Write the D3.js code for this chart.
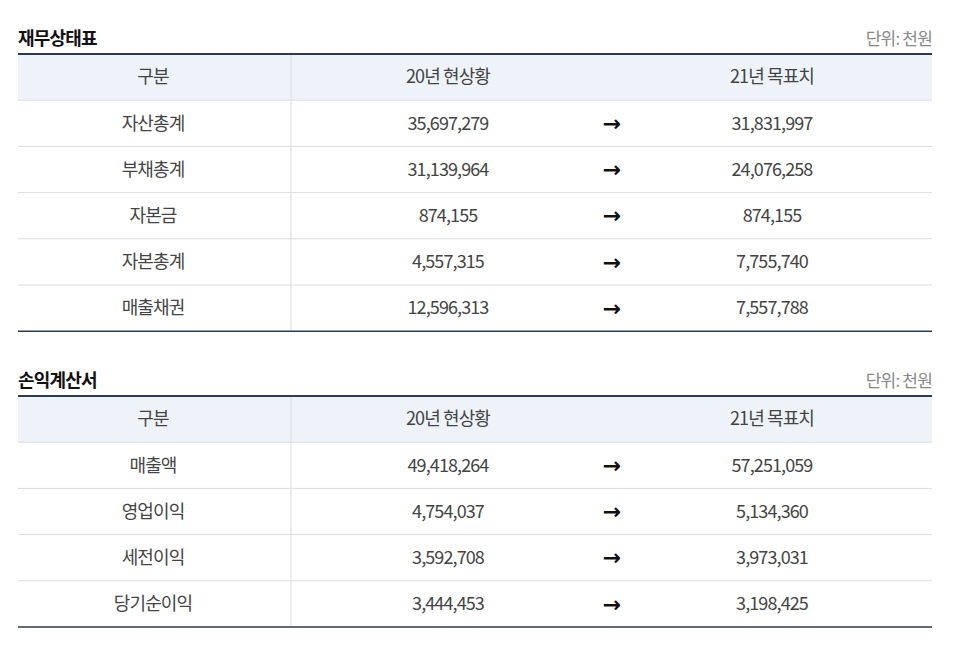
<!DOCTYPE html>
<html><head><meta charset="utf-8">
<script src="https://cdn.jsdelivr.net/npm/d3@7"></script>
<style>body{margin:0;background:#fff}</style></head>
<body><svg id="c" width="966" height="648"></svg>
<script>
const headers = ["구분", "20년 현상황", "21년 목표치"];
const unitLabel = "단위: 천원";
const title1 = "재무상태표";
const cats1 = ["자산총계", "부채총계", "자본금", "자본총계", "매출채권"];
const cur1 = [35697279, 31139964, 874155, 4557315, 12596313];
const tgt1 = [31831997, 24076258, 874155, 7755740, 7557788];
const title2 = "손익계산서";
const cats2 = ["매출액", "영업이익", "세전이익", "당기순이익"];
const cur2 = [49418264, 4754037, 3592708, 3444453];
const tgt2 = [57251059, 5134360, 3973031, 3198425];

const svg = d3.select("#c");
const font = "'Noto Sans CJK KR','Noto Sans',sans-serif";
const fmt = d3.format(",");
const x0 = 18, x1 = 932, divX = 291;
const colX = [153, 448, 612, 772];

function table(title, cats, cur, tgt, titleY, top, rowH) {
  const g = svg.append("g");
  g.append("text").attr("x", x0).attr("y", titleY).text(title)
    .attr("font-family", font).attr("font-size", 18).attr("font-weight", 700).attr("fill", "#111").attr("letter-spacing", -0.8);
  g.append("text").attr("x", x1).attr("y", titleY).attr("text-anchor", "end").text(unitLabel)
    .attr("font-family", font).attr("font-size", 17).attr("fill", "#888").attr("letter-spacing", -0.8);
  const n = cats.length + 1;
  const y = d3.scaleBand().domain(d3.range(n)).range([top, top + rowH * n]);
  g.append("rect").attr("x", x0).attr("y", y(0)).attr("width", x1 - x0).attr("height", y.bandwidth()).attr("fill", "#eef3fa");
  for (let i = 1; i < n; i++) g.append("line").attr("x1", x0).attr("x2", x1).attr("y1", y(i)).attr("y2", y(i)).attr("stroke", "#dcdcdc");
  g.append("line").attr("x1", divX).attr("x2", divX).attr("y1", top).attr("y2", top + rowH * n).attr("stroke", "#dcdcdc");
  g.append("line").attr("x1", x0).attr("x2", x1).attr("y1", top).attr("y2", top).attr("stroke", "#2b3a55").attr("stroke-width", 2);
  g.append("line").attr("x1", x0).attr("x2", x1).attr("y1", top + rowH * n).attr("y2", top + rowH * n).attr("stroke", "#2b3a55").attr("stroke-width", 1.5);
  const txt = (x, i, s, col, w) => g.append("text").attr("x", x).attr("y", y(i) + y.bandwidth() / 2).attr("dy", "0.35em")
    .attr("text-anchor", "middle").text(s).attr("font-family", font).attr("font-size", 18).attr("fill", col || "#444")
    .attr("font-weight", w || 400).attr("letter-spacing", -0.9);
  txt(colX[0], 0, headers[0]); txt(colX[1], 0, headers[1]); txt(colX[3], 0, headers[2]);
  cats.forEach((c, i) => {
    txt(colX[0], i + 1, c);
    txt(colX[1], i + 1, fmt(cur[i]));
    txt(colX[2], i + 1, "→", "#111", 700).attr("font-family", "DejaVu Sans").attr("font-size", 22).attr("letter-spacing", 0);
    txt(colX[3], i + 1, fmt(tgt[i]));
  });
}
table(title1, cats1, cur1, tgt1, 45, 54, 46.2);
table(title2, cats2, cur2, tgt2, 387, 396, 46.2);
</script></body></html>
